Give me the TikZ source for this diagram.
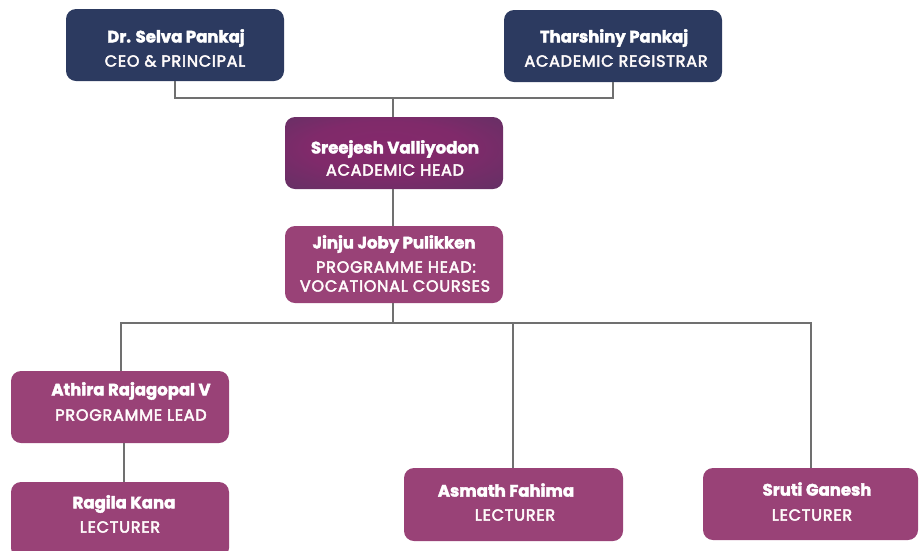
\documentclass[tikz,border=0pt]{standalone}
\usepackage{fontspec}
\setmainfont{Poppins}[BoldFeatures={FakeBold=2.5}]
\newfontfamily\titlefont{Poppins}[LetterSpace=5, FakeBold=3]
\definecolor{navy}{RGB}{44,58,96}
\definecolor{plum}{RGB}{153,66,119}
\definecolor{plumdark}{RGB}{80,53,97}
\definecolor{plummid}{RGB}{132,41,107}
\definecolor{linegray}{RGB}{112,112,112}
\pgfdeclareradialshading{acashade}{\pgfpoint{-3bp}{6bp}}{color(0bp)=(plummid); color(18bp)=(plummid!92!plumdark); color(42bp)=(plumdark!75!plummid); color(50bp)=(plumdark)}
\tikzset{
  navybox/.style={fill=navy, rounded corners=10pt, inner sep=0pt},
  plumbox/.style={fill=plum, rounded corners=10pt, inner sep=0pt},
  gradbox/.style={shading=acashade, rounded corners=10pt, inner sep=0pt},
  nm/.style={text=white, font=\fontsize{16.5}{18}\selectfont\bfseries, inner sep=0pt},
  tt/.style={text=white!94!pink, font=\titlefont\fontsize{16}{18}\selectfont, inner sep=0pt},
  conn/.style={draw=linegray, line width=1.3pt},
}
\begin{document}
\begin{tikzpicture}[x=1pt, y=-1pt]
\useasboundingbox (0,0) rectangle (919,550);
\clip (0,0) rectangle (919,550);
% boxes
\node[navybox, minimum width=218pt, minimum height=72pt] (ceo) at (175,45) {};
\node[navybox, minimum width=218pt, minimum height=72pt] (reg) at (613,46) {};
\node[gradbox, minimum width=218pt, minimum height=72pt] (aca) at (394,153) {};
\node[plumbox, minimum width=218pt, minimum height=77pt] (jin) at (394,264.5) {};
\node[plumbox, minimum width=218pt, minimum height=72pt] (ath) at (120,407) {};
\node[plumbox, minimum width=218pt, minimum height=76pt] (rag) at (120,520) {};
\node[plumbox, minimum width=219pt, minimum height=73pt] (asm) at (513.5,504.5) {};
\node[plumbox, minimum width=215pt, minimum height=72pt] (sru) at (810.5,504) {};
% connectors
\coordinate (j1) at (393,98);
\coordinate (j2) at (393,323);
\coordinate (jl) at (121,323);
\coordinate (jr) at (811,323);
\draw[conn] (ceo.south) |- (j1) -| (reg.south);
\draw[conn] (j1) -- (j1 |- aca.north);
\draw[conn] (aca.south -| j1) -- (j1 |- jin.north);
\draw[conn] (jin.south -| j2) -- (j2);
\draw[conn] (ath.north -| jl) -- (jl) -- (jr) -- (jr |- sru.north);
\coordinate (jm) at (513,323);
\draw[conn] (jm) -- (jm |- asm.north);
\coordinate (ar) at (124,443);
\draw[conn] (ath.south -| ar) -- (ar |- rag.north);
% texts
\node[nm] (ceoN) at (176,38) {Dr. Selva Pankaj};
\node[tt] (ceoT) at (175,61) {CEO \& PRINCIPAL};
\node[nm] (regN) at (614,38) {Tharshiny Pankaj};
\node[tt] (regT) at (616,61) {ACADEMIC REGISTRAR};
\node[nm] (acaN) at (395,149) {Sreejesh Valliyodon};
\node[tt] (acaT) at (395,170) {ACADEMIC HEAD};
\node[nm] (jinN) at (394,244) {Jinju Joby Pulikken};
\node[tt] (jinT1) at (396,267) {PROGRAMME HEAD:};
\node[tt] (jinT2) at (395,286) {VOCATIONAL COURSES};
\node[nm] (athN) at (131,391) {Athira Rajagopal V};
\node[tt] (athT) at (131,415) {PROGRAMME LEAD};
\node[nm] (ragN) at (124,504) {Ragila Kana};
\node[tt] (ragT) at (120,527) {LECTURER};
\node[nm] (asmN) at (506,490) {Asmath Fahima};
\node[tt] (asmT) at (515,515) {LECTURER};
\node[nm] (sruN) at (817,489) {Sruti Ganesh};
\node[tt] (sruT) at (812,515) {LECTURER};
\end{tikzpicture}
\end{document}
